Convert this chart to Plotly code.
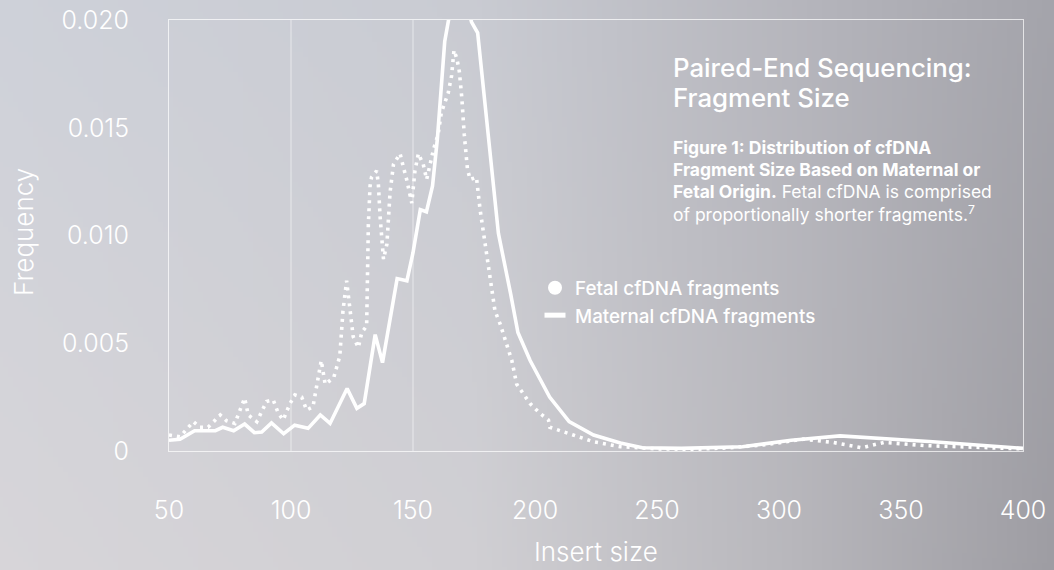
import base64
import struct
import zlib

import plotly.graph_objects as go

# ---------------- data ----------------
insert_size_maternal = [50, 54.5, 60.5, 69, 72, 76.5, 81, 85, 88, 92, 97, 101.5, 107, 112, 116,
                        123, 127, 130, 134.5, 137.5, 143.5, 147.5, 150, 153, 155.5, 158, 160, 163,
                        168.5, 174, 176.5, 185, 190, 193, 198, 206, 214, 224, 235, 244, 260, 285,
                        305, 325, 363, 400]
freq_maternal = [0.0005, 0.00054, 0.00094, 0.00094, 0.0011, 0.00094, 0.00125, 0.00085, 0.00088,
                 0.0013, 0.0008, 0.0012, 0.00105, 0.00167, 0.00128, 0.0029, 0.00198, 0.0022,
                 0.0054, 0.0041, 0.0080, 0.0079, 0.0092, 0.0112, 0.0111, 0.0123, 0.0145, 0.019,
                 0.0225, 0.0199, 0.0194, 0.0101, 0.0073, 0.0055, 0.0042, 0.0025, 0.00136,
                 0.00074, 0.00037, 0.00015, 0.00012, 0.0002, 0.0005, 0.0007, 0.00043, 0.00012]

insert_size_fetal = [50, 54.5, 60, 62.7, 66, 71, 73.6, 77, 81, 82.5, 86, 90, 92.7, 94.8, 96.8,
                     99.6, 101.6, 104.4, 106.4, 109, 110.5, 112.4, 114, 117.5, 120, 121.3, 122.8,
                     124.2, 125.5, 127.6, 129, 131, 131.7, 132.4, 133, 135.1, 135.8, 136.5, 137.9,
                     139.3, 140.6, 142, 144.7, 146, 147.4, 149.5, 150.8, 152.2, 154.2, 155.6, 157,
                     158.4, 160.3, 161.6, 164.4, 165.8, 166.8, 168, 169, 170, 171, 172.3, 173.4,
                     176, 177.5, 179, 181.6, 183.6, 185.7, 188.4, 190.5, 192.5, 194.6, 198, 202,
                     205.5, 206.1, 210, 215.7, 224, 235, 250, 265, 280, 295, 310, 322, 334, 343,
                     360, 380, 400]
freq_fetal = [0.00074, 0.00066, 0.00136, 0.0011, 0.0011, 0.00167, 0.0014, 0.00128, 0.00245,
              0.00167, 0.00136, 0.0023, 0.00237, 0.00175, 0.00144, 0.0022, 0.0026, 0.0025,
              0.0019, 0.00205, 0.003, 0.0042, 0.0031, 0.0034, 0.0044, 0.0065, 0.0079, 0.0065,
              0.0053, 0.0048, 0.0055, 0.0058, 0.0105, 0.0123, 0.0127, 0.0130, 0.0124, 0.0109,
              0.0089, 0.0096, 0.0120, 0.0133, 0.0138, 0.0132, 0.0126, 0.0115, 0.0130, 0.0138,
              0.0133, 0.0126, 0.0133, 0.0140, 0.0147, 0.0157, 0.0166, 0.0174, 0.0186, 0.0182,
              0.0176, 0.0164, 0.0147, 0.0131, 0.0126, 0.0127, 0.0112, 0.0101, 0.0082, 0.0065,
              0.0059, 0.0050, 0.0042, 0.0031, 0.00275, 0.0022, 0.00175, 0.00144, 0.0011,
              0.00094, 0.00074, 0.00043, 0.0002, 0.0001, 0.00008, 0.00015, 0.0003, 0.00055,
              0.0004, 0.00015, 0.0004, 0.00025, 0.00018, 0.0001]

x_ticks = [50, 100, 150, 200, 250, 300, 350, 400]
y_ticks = [0, 0.005, 0.010, 0.015, 0.020]
y_tick_labels = ["0", "0.005", "0.010", "0.015", "0.020"]
grid_x = [100, 150]

series_names = ["Fetal cfDNA fragments", "Maternal cfDNA fragments"]
title_lines = ["Paired-End Sequencing:", "Fragment Size"]
caption_lines = ["<b>Figure 1: Distribution of cfDNA</b>",
                 "<b>Fragment Size Based on Maternal or</b>",
                 "<b>Fetal Origin.</b> Fetal cfDNA is comprised",
                 "of proportionally shorter fragments.<sup>7</sup>"]
x_title = "Insert size"
y_title = "Frequency"

# ---------------- layout geometry ----------------
W, H = 1054, 570
L, R, T, B = 169, 31, 20, 119
PW, PH = W - L - R, H - T - B


def px_x(px):
    return (px - L) / PW


def px_y(py):
    return (H - B - py) / PH


# ---------------- gradient background as an inline PNG ----------------
def gradient_png(w, h):
    stops = [
        (0.00, (206, 209, 217), (215, 213, 217)),
        (0.45, (201, 203, 210), (208, 207, 211)),
        (0.75, (182, 182, 189), (184, 183, 188)),
        (1.00, (164, 164, 171), (158, 157, 163)),
    ]
    raw = bytearray()
    for j in range(h):
        t = j / (h - 1)
        raw.append(0)
        for i in range(w):
            u = i / (w - 1)
            k = 0
            while k < len(stops) - 2 and u > stops[k + 1][0]:
                k += 1
            u0, top0, bot0 = stops[k]
            u1, top1, bot1 = stops[k + 1]
            f = (u - u0) / (u1 - u0)
            for c in range(3):
                a = top0[c] + (bot0[c] - top0[c]) * t
                b = top1[c] + (bot1[c] - top1[c]) * t
                raw.append(int(round(a + (b - a) * f)))

    def chunk(tag, data):
        return (struct.pack(">I", len(data)) + tag + data
                + struct.pack(">I", zlib.crc32(tag + data) & 0xFFFFFFFF))

    png = b"\x89PNG\r\n\x1a\n"
    png += chunk(b"IHDR", struct.pack(">IIBBBBB", w, h, 8, 2, 0, 0, 0))
    png += chunk(b"IDAT", zlib.compress(bytes(raw), 9))
    png += chunk(b"IEND", b"")
    return "data:image/png;base64," + base64.b64encode(png).decode()


bg_uri = gradient_png(211, 114)

WHITE = "#ffffff"
FONT = "Inter, Liberation Sans, Arial, sans-serif"

fig = go.Figure()

# data lines
fig.add_trace(go.Scatter(x=insert_size_maternal, y=freq_maternal, mode="lines",
                         line=dict(color=WHITE, width=3.6), showlegend=False,
                         name=series_names[1], hoverinfo="skip"))
fig.add_trace(go.Scatter(x=insert_size_fetal, y=freq_fetal, mode="lines",
                         line=dict(color=WHITE, width=3.6, dash="3px,5px"), showlegend=False,
                         name=series_names[0], hoverinfo="skip"))

# legend entries
fig.add_trace(go.Scatter(x=[None], y=[None], mode="markers", name=series_names[0],
                         marker=dict(symbol="circle", size=14, color=WHITE)))
fig.add_trace(go.Scatter(x=[None], y=[None], mode="markers", name=series_names[1],
                         marker=dict(symbol="line-ew", size=15, color=WHITE,
                                     line=dict(color=WHITE, width=6))))

for gx in grid_x:
    fig.add_shape(type="line", xref="x", yref="paper", x0=gx, x1=gx, y0=0, y1=1,
                  line=dict(color="rgba(255,255,255,0.55)", width=1), layer="below")

annotations = []
for i, line in enumerate(title_lines):
    annotations.append(dict(text=line, xref="paper", yref="paper", x=px_x(671),
                            y=px_y(67 + i * 30), xanchor="left", yanchor="middle",
                            showarrow=False,
                            font=dict(family=FONT, size=25.8, color=WHITE, weight=500)))
cap_y = [147, 169, 191, 213]
for line, cy in zip(caption_lines, cap_y):
    annotations.append(dict(text=line, xref="paper", yref="paper", x=px_x(671),
                            y=px_y(cy), xanchor="left", yanchor="middle",
                            showarrow=False, font=dict(family=FONT, size=17.5, color=WHITE)))
annotations.append(dict(text=y_title, xref="paper", yref="paper", x=px_x(23),
                        y=px_y(232), xanchor="center", yanchor="middle", textangle=-90,
                        showarrow=False,
                        font=dict(family=FONT, size=26, color=WHITE, weight=300)))
annotations.append(dict(text=x_title, xref="paper", yref="paper", x=px_x(596),
                        y=px_y(569), xanchor="center", yanchor="bottom",
                        showarrow=False,
                        font=dict(family=FONT, size=26, color=WHITE, weight=300)))

tick_font = dict(family=FONT, size=25, color=WHITE, weight=300)

fig.update_layout(
    width=W, height=H,
    margin=dict(l=L, r=R, t=T, b=B, pad=0, autoexpand=False),
    paper_bgcolor="#c4c4c9",
    plot_bgcolor="rgba(0,0,0,0)",
    images=[dict(source=bg_uri, xref="paper", yref="paper", x=-L / PW, y=1 + T / PH,
                 sizex=W / PW, sizey=H / PH, sizing="stretch", layer="below",
                 xanchor="left", yanchor="top")],
    annotations=annotations,
    showlegend=True,
    legend=dict(x=px_x(535), y=px_y(269), xanchor="left", yanchor="top",
                bgcolor="rgba(0,0,0,0)",
                font=dict(family=FONT, size=18.8, color=WHITE, weight=500),
                itemsizing="trace"),
    xaxis=dict(range=[50, 400], tickvals=x_ticks, showgrid=False, zeroline=False,
               showline=True, mirror=True, linecolor="rgba(255,255,255,0.7)", linewidth=1,
               ticks="", ticklabelstandoff=37, tickfont=tick_font, automargin=False),
    yaxis=dict(range=[0, 0.020], tickvals=y_ticks, ticktext=y_tick_labels, showgrid=False,
               zeroline=False, showline=True, mirror=True,
               linecolor="rgba(255,255,255,0.7)", linewidth=1, ticks="",
               ticklabelstandoff=34, tickfont=tick_font, automargin=False),
)

fig.write_html("out.html", config={"displayModeBar": False},
               post_script="document.body.style.margin='0px';")
